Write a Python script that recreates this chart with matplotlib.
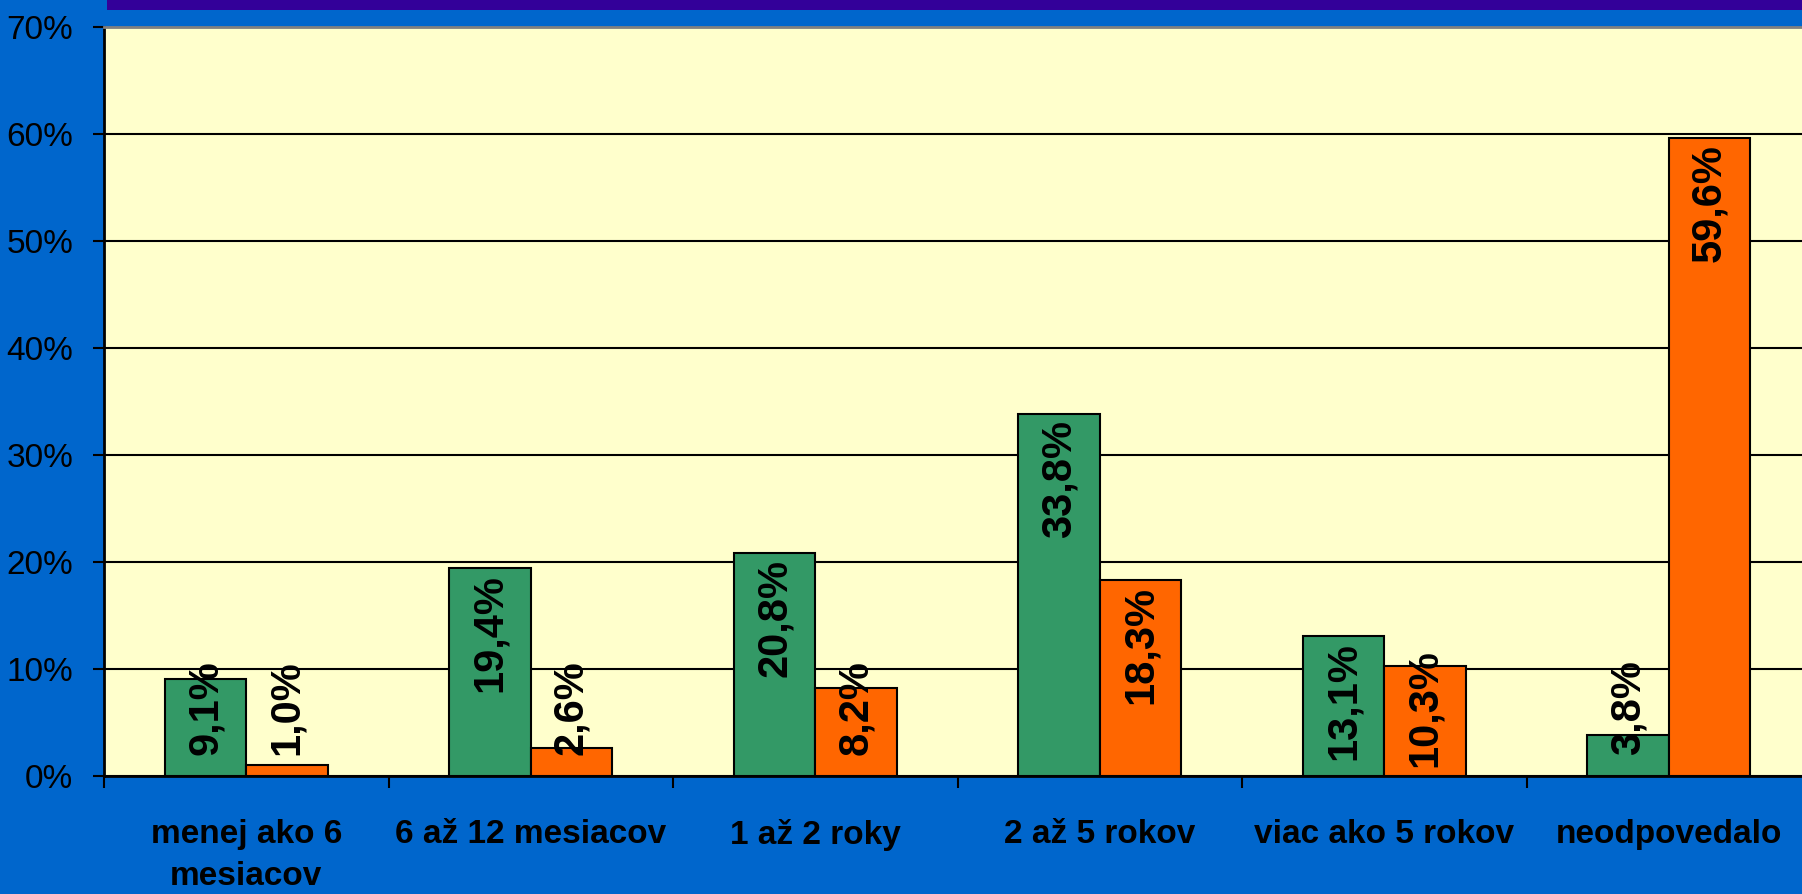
import matplotlib
matplotlib.use("Agg")
import matplotlib.pyplot as plt
import matplotlib.patches as patches
import numpy as np

categories = ["menej ako 6\nmesiacov", "6 až 12 mesiacov", "1 až 2 roky",
              "2 až 5 rokov", "viac ako 5 rokov", "neodpovedalo"]
green_vals = [9.1, 19.4, 20.8, 33.8, 13.1, 3.8]
orange_vals = [1.0, 2.6, 8.2, 18.3, 10.3, 59.6]
y_ticks = [0, 10, 20, 30, 40, 50, 60, 70]

BLUE = "#0066CC"
PLOT_BG = "#FFFFCC"
GREEN = "#339966"
ORANGE = "#FF6600"
BAND = "#330099"

fig = plt.figure(figsize=(18.02, 8.94), dpi=100, facecolor=BLUE)
# dark band at the top
fig.add_artist(patches.Rectangle((107 / 1802, 1 - 10 / 894), 1, 10 / 894,
                                 transform=fig.transFigure, color=BAND, lw=0))

ax = fig.add_axes([104 / 1802, 118 / 894, 1707 / 1802, 749 / 894])
ax.set_facecolor(PLOT_BG)

x = np.arange(len(categories))
w = 1 / 3.5
ax.bar(x - w / 2, green_vals, w, color=GREEN, edgecolor="black", linewidth=1.5, zorder=3)
ax.bar(x + w / 2, orange_vals, w, color=ORANGE, edgecolor="black", linewidth=1.5, zorder=3)

ax.set_xlim(-0.5, len(categories) - 0.5)
ax.set_ylim(0, 70)

# gridlines + y ticks
ax.set_yticks(y_ticks)
ax.set_yticklabels([f"{t}%" for t in y_ticks], family="Liberation Sans", fontsize=24)
ax.yaxis.grid(True, color="black", linewidth=1.5, zorder=1)
ax.set_axisbelow(True)
ax.tick_params(axis="y", length=8, width=1.5, pad=14, colors="black")

# category labels in the middle, tick marks between categories
ax.set_xticks(x)
ax.set_xticklabels(categories, family="Liberation Sans", fontweight="bold", fontsize=24,
                   linespacing=1.47)
ax.set_xticks(np.arange(-0.5, len(categories) + 0.5, 1), minor=True)
ax.tick_params(axis="x", which="major", length=0, pad=31)
ax.tick_params(axis="x", which="minor", length=8.5, width=1.5)

for s in ["left", "bottom"]:
    ax.spines[s].set_linewidth(2)
    ax.spines[s].set_color("black")
ax.spines["top"].set_color("#808080")
ax.spines["top"].set_linewidth(2)
ax.spines["right"].set_visible(False)

# data labels: rotated, placed inside the bar end, kept off the axis
fig.canvas.draw()
renderer = fig.canvas.get_renderer()
px_per_unit = ax.transData.transform((0, 1))[1] - ax.transData.transform((0, 0))[1]
pad_px = 6
min_center = 68 / px_per_unit
for xs, vals in [(x - w / 2, green_vals), (x + w / 2, orange_vals)]:
    for xi, v in zip(xs, vals):
        lbl = f"{v:.1f}%".replace(".", ",")
        t = ax.text(xi, v, lbl, rotation=90, ha="center", va="center",
                    family="Liberation Sans", fontweight="bold", fontsize=30, zorder=4)
        h = t.get_window_extent(renderer).height
        yc = v - (pad_px + h / 2) / px_per_unit
        t.set_y(max(yc, min_center))

fig.savefig("out.png", dpi=100, facecolor=BLUE)
